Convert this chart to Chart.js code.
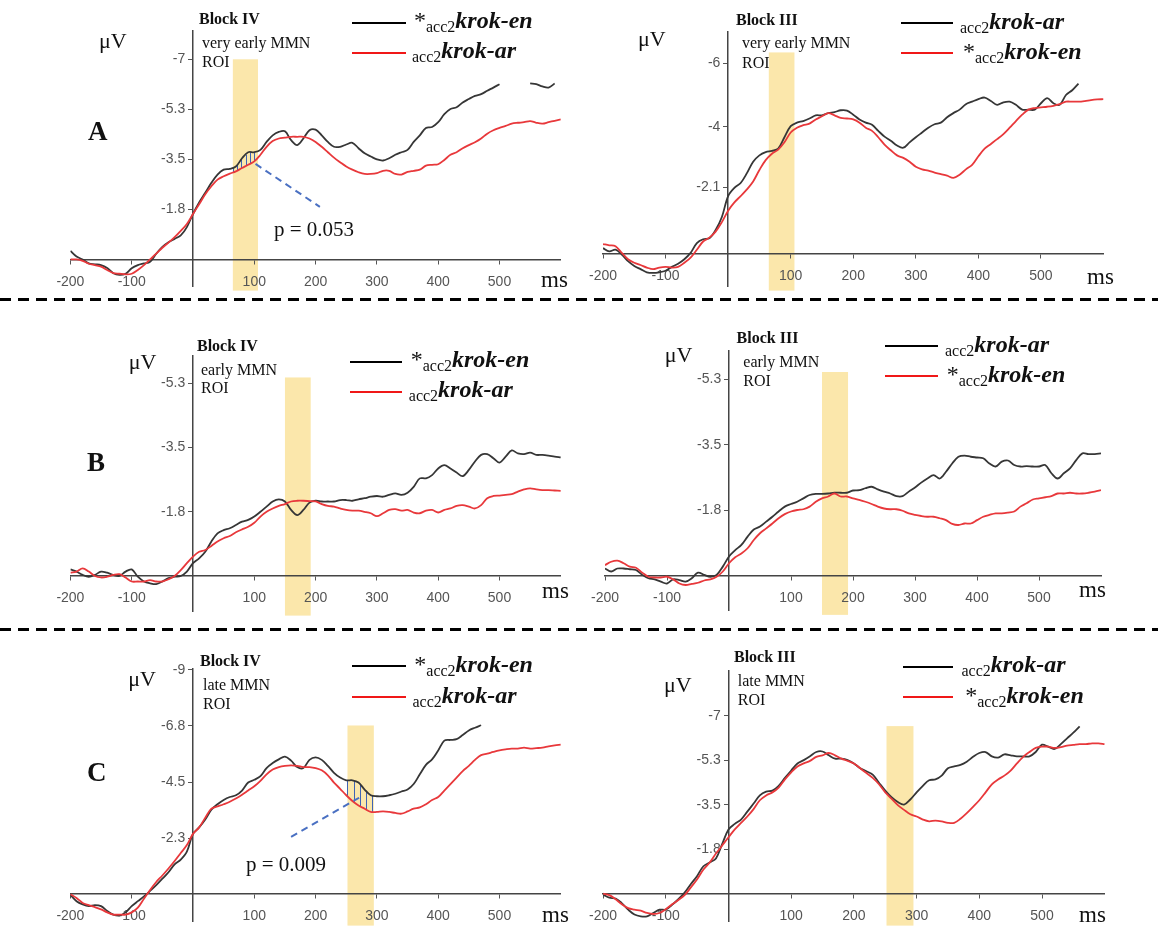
<!DOCTYPE html>
<html>
<head>
<meta charset="utf-8">
<script src="https://cdn.jsdelivr.net/npm/chart.js@4.4.1/dist/chart.umd.min.js"></script>
<style>
  body { margin: 0; background: #fff; }
  #page { position: relative; width: 1158px; height: 933px; overflow: hidden; background: #fff;
          font-family: "Liberation Serif", "Times New Roman", serif; color: #111; }
  #page canvas { position: absolute; }
  .t { position: absolute; white-space: nowrap; line-height: 1; }
  .t b { font-weight: bold; }
  .leg i { font-style: italic; font-weight: bold; }
  .leg sub { font-size: 16px; vertical-align: baseline; position: relative; top: 4px; }
  .legline { position: absolute; height: 2px; }
  .sep { position: absolute; left: 0; width: 1158px; height: 3px;
         background: repeating-linear-gradient(to right, #000 0 11px, transparent 11px 18px); }
</style>
</head>
<body>
<div id="page"></div>
<script>
// time axis (ms), one sample every 10 ms
const timeMs = [
  -200, -190, -180, -170, -160, -150, -140, -130, -120, -110,
  -100, -90, -80, -70, -60, -50, -40, -30, -20, -10,
  0, 10, 20, 30, 40, 50, 60, 70, 80, 90,
  100, 110, 120, 130, 140, 150, 160, 170, 180, 190,
  200, 210, 220, 230, 240, 250, 260, 270, 280, 290,
  300, 310, 320, 330, 340, 350, 360, 370, 380, 390,
  400, 410, 420, 430, 440, 450, 460, 470, 480, 490,
  500, 510, 520, 530, 540, 550, 560, 570, 580, 590,
  600
];

// Row A, Block IV (left): black = *acc2krok-en, red = acc2krok-ar
const aLeftBlack = [
  -0.30, -0.10, 0.00, 0.14, 0.17, 0.20, 0.30, 0.48, 0.54, 0.50,
  0.31, 0.20, 0.14, 0.08, -0.20, -0.44, -0.60, -0.72, -0.84, -1.13,
  -1.59, -1.99, -2.33, -2.68, -2.97, -3.14, -3.17, -3.25, -3.54, -3.75,
  -3.75, -3.83, -4.11, -4.34, -4.46, -4.48, -4.17, -4.00, -4.23, -4.52,
  -4.54, -4.34, -4.11, -3.94, -3.94, -4.02, -4.08, -3.89, -3.71, -3.60,
  -3.50, -3.46, -3.54, -3.66, -3.75, -3.83, -4.11, -4.34, -4.60, -4.63,
  -4.80, -5.08, -5.26, -5.32, -5.49, -5.61, -5.72, -5.78, -5.90, -6.01,
  -6.13, null, null, null, null, -6.16, -6.13, -6.05, -6.01, -6.15,
  null
];
const aLeftRed = [
  0.00, 0.00, 0.05, 0.15, 0.20, 0.25, 0.37, 0.48, 0.50, 0.52,
  0.50, 0.37, 0.20, 0.00, -0.20, -0.41, -0.59, -0.78, -1.00, -1.24,
  -1.59, -1.93, -2.28, -2.56, -2.79, -2.91, -3.00, -3.08, -3.20, -3.31,
  -3.43, -3.66, -3.94, -4.14, -4.23, -4.26, -4.29, -4.29, -4.29, -4.23,
  -4.11, -3.94, -3.75, -3.56, -3.40, -3.25, -3.14, -3.05, -2.99, -2.99,
  -3.02, -3.10, -3.10, -2.99, -2.97, -3.06, -3.10, -3.14, -3.28, -3.31,
  -3.33, -3.48, -3.66, -3.75, -3.89, -4.00, -4.10, -4.23, -4.40, -4.52,
  -4.60, -4.67, -4.75, -4.78, -4.80, -4.84, -4.78, -4.75, -4.80, -4.85,
  -4.90
];

// Row A, Block III (right): black = acc2krok-ar, red = *acc2krok-en
const aRightBlack = [
  -0.18, -0.08, -0.13, 0.02, 0.23, 0.38, 0.48, 0.58, 0.60, 0.58,
  0.53, 0.41, 0.31, 0.17, -0.03, -0.34, -0.46, -0.49, -0.75, -1.16,
  -1.82, -2.08, -2.23, -2.54, -2.90, -3.10, -3.20, -3.24, -3.31, -3.67,
  -4.02, -4.13, -4.18, -4.26, -4.36, -4.36, -4.43, -4.46, -4.52, -4.51,
  -4.38, -4.23, -4.13, -4.06, -3.87, -3.69, -3.56, -3.41, -3.34, -3.51,
  -3.67, -3.82, -3.97, -4.08, -4.13, -4.30, -4.43, -4.54, -4.71, -4.79,
  -4.87, -4.92, -4.81, -4.69, -4.77, -4.79, -4.69, -4.54, -4.54, -4.54,
  -4.74, -4.90, -4.74, -4.69, -5.00, -5.15, -5.36, null, null, null,
  null
];
const aRightRed = [
  -0.31, -0.27, -0.24, -0.03, 0.17, 0.28, 0.35, 0.43, 0.48, 0.43,
  0.41, 0.43, 0.41, 0.28, 0.12, -0.13, -0.39, -0.51, -0.70, -1.00,
  -1.36, -1.62, -1.82, -2.03, -2.28, -2.64, -2.95, -3.15, -3.28, -3.51,
  -3.82, -3.97, -4.05, -4.10, -4.23, -4.33, -4.43, -4.36, -4.28, -4.26,
  -4.23, -4.13, -3.97, -3.87, -3.67, -3.44, -3.26, -3.10, -3.02, -2.90,
  -2.74, -2.66, -2.62, -2.56, -2.51, -2.46, -2.39, -2.49, -2.66, -2.80,
  -3.07, -3.31, -3.46, -3.61, -3.77, -3.97, -4.18, -4.38, -4.54, -4.59,
  -4.61, -4.63, -4.66, -4.71, -4.79, -4.79, -4.79, -4.81, -4.84, -4.86,
  -4.87
];

// Row B, Block IV (left)
const bLeftBlack = [
  -0.18, -0.12, -0.03, 0.02, -0.03, -0.12, -0.09, -0.03, 0.00, -0.12,
  -0.18, 0.02, 0.15, 0.20, 0.22, 0.15, 0.06, 0.02, 0.00, -0.12,
  -0.35, -0.48, -0.66, -0.94, -1.16, -1.25, -1.30, -1.39, -1.48, -1.53,
  -1.62, -1.75, -1.89, -2.03, -2.09, -2.03, -1.80, -1.66, -1.80, -2.00,
  -2.05, -2.03, -2.03, -2.03, -2.07, -2.07, -2.05, -2.09, -2.12, -2.16,
  -2.18, -2.16, -2.21, -2.25, -2.21, -2.27, -2.43, -2.66, -2.66, -2.75,
  -2.93, -3.02, -2.93, -2.82, -2.72, -2.89, -3.12, -3.30, -3.32, -3.21,
  -3.09, -3.25, -3.42, -3.34, -3.32, -3.36, -3.30, -3.30, -3.28, -3.25,
  -3.23
];
const bLeftRed = [
  -0.09, -0.12, -0.21, -0.12, 0.00, 0.04, 0.02, -0.03, -0.05, 0.04,
  0.15, 0.15, 0.15, 0.11, 0.15, 0.15, 0.09, 0.00, -0.16, -0.35,
  -0.53, -0.66, -0.71, -0.82, -0.94, -1.03, -1.09, -1.19, -1.27, -1.34,
  -1.45, -1.62, -1.75, -1.84, -1.91, -1.96, -2.03, -2.05, -2.05, -2.04,
  -2.03, -1.96, -1.91, -1.89, -1.84, -1.80, -1.78, -1.78, -1.75, -1.71,
  -1.63, -1.71, -1.80, -1.82, -1.78, -1.80, -1.73, -1.71, -1.78, -1.80,
  -1.73, -1.80, -1.84, -1.91, -1.93, -1.89, -1.84, -1.93, -2.12, -2.18,
  -2.19, -2.21, -2.23, -2.30, -2.36, -2.39, -2.36, -2.34, -2.34, -2.33,
  -2.32
];

// Row B, Block III (right)
const bRightBlack = [
  -0.20, -0.12, -0.20, -0.20, -0.18, -0.16, -0.03, 0.06, 0.09, 0.15,
  0.20, 0.09, 0.11, 0.15, 0.06, -0.09, -0.03, 0.02, -0.03, -0.25,
  -0.52, -0.69, -0.83, -1.05, -1.24, -1.32, -1.45, -1.58, -1.72, -1.85,
  -1.92, -1.98, -2.07, -2.16, -2.19, -2.19, -2.20, -2.22, -2.22, -2.22,
  -2.28, -2.29, -2.34, -2.38, -2.31, -2.25, -2.20, -2.13, -2.13, -2.25,
  -2.36, -2.49, -2.60, -2.69, -2.60, -2.78, -3.00, -3.18, -3.21, -3.18,
  -3.16, -3.14, -3.00, -2.92, -3.05, -3.08, -2.96, -2.92, -2.93, -2.92,
  -2.92, -2.96, -2.74, -2.60, -2.74, -2.87, -3.09, -3.27, -3.25, -3.25,
  -3.27
];
const bRightRed = [
  -0.29, -0.38, -0.41, -0.34, -0.25, -0.22, -0.09, 0.02, 0.04, 0.04,
  0.02, 0.09, 0.20, 0.24, 0.21, 0.18, 0.12, 0.09, 0.02, -0.12,
  -0.34, -0.50, -0.60, -0.74, -0.96, -1.14, -1.27, -1.40, -1.54, -1.65,
  -1.72, -1.76, -1.78, -1.85, -1.98, -2.07, -2.12, -2.20, -2.12, -2.12,
  -2.07, -2.03, -1.98, -1.92, -1.85, -1.80, -1.78, -1.78, -1.74, -1.67,
  -1.63, -1.60, -1.58, -1.58, -1.54, -1.49, -1.39, -1.36, -1.40, -1.40,
  -1.49, -1.58, -1.63, -1.67, -1.67, -1.69, -1.72, -1.85, -1.94, -2.04,
  -2.07, -2.10, -2.13, -2.20, -2.20, -2.22, -2.20, -2.20, -2.22, -2.25,
  -2.29
];

// Row C, Block IV (left)
const cLeftBlack = [
  0.03, 0.28, 0.41, 0.48, 0.44, 0.48, 0.67, 0.82, 0.86, 0.73,
  0.48, 0.28, 0.09, -0.13, -0.36, -0.62, -0.88, -1.20, -1.39, -1.71,
  -2.42, -2.68, -3.00, -3.39, -3.61, -3.78, -3.90, -3.97, -4.16, -4.48,
  -4.59, -4.74, -5.06, -5.26, -5.41, -5.52, -5.36, -5.10, -5.06, -5.39,
  -5.49, -5.39, -5.15, -4.87, -4.68, -4.57, -4.57, -4.48, -4.20, -3.97,
  -3.93, -3.93, -3.97, -4.03, -4.12, -4.20, -4.42, -4.81, -5.19, -5.41,
  -5.77, -6.16, -6.19, -6.22, -6.39, -6.57, -6.68, -6.78, null, null,
  null, null, null, null, null, null, null, null, null, null,
  null
];
const cLeftRed = [
  0.00, 0.15, 0.35, 0.44, 0.52, 0.61, 0.73, 0.82, 0.82, 0.82,
  0.73, 0.54, 0.18, -0.17, -0.49, -0.75, -1.03, -1.33, -1.65, -1.97,
  -2.42, -2.68, -3.07, -3.43, -3.52, -3.61, -3.71, -3.84, -3.99, -4.16,
  -4.33, -4.55, -4.81, -5.00, -5.10, -5.15, -5.17, -5.15, -5.10, -5.10,
  -5.06, -4.97, -4.77, -4.48, -4.23, -3.97, -3.74, -3.56, -3.43, -3.30,
  -3.30, -3.32, -3.30, -3.26, -3.23, -3.32, -3.43, -3.48, -3.61, -3.78,
  -3.90, -4.16, -4.42, -4.68, -4.94, -5.15, -5.39, -5.58, -5.64, -5.71,
  -5.77, -5.81, -5.84, -5.84, -5.88, -5.84, -5.86, -5.88, -5.93, -5.97,
  -6.00
];

// Row C, Block III (right)
const cRightBlack = [
  0.04, 0.16, 0.19, 0.38, 0.63, 0.82, 0.89, 0.89, 0.76, 0.63,
  0.63, 0.44, 0.22, -0.04, -0.38, -0.70, -1.08, -1.23, -1.39, -1.96,
  -2.53, -2.75, -2.92, -3.23, -3.55, -3.87, -4.02, -4.06, -4.25, -4.56,
  -4.85, -5.13, -5.26, -5.41, -5.58, -5.60, -5.45, -5.32, -5.32, -5.26,
  -5.13, -4.94, -4.82, -4.69, -4.37, -4.06, -3.80, -3.61, -3.51, -3.71,
  -3.99, -4.25, -4.47, -4.50, -4.65, -4.94, -5.01, -5.07, -5.20, -5.39,
  -5.54, -5.58, -5.41, -5.36, -5.49, -5.45, -5.41, -5.41, -5.41, -5.58,
  -5.87, -5.79, -5.70, -5.89, -6.12, -6.34, -6.59, null, null, null,
  null
];
const cRightRed = [
  0.00, 0.06, 0.22, 0.42, 0.57, 0.63, 0.67, 0.76, 0.80, 0.76,
  0.61, 0.42, 0.25, 0.06, -0.25, -0.57, -0.95, -1.23, -1.58, -1.90,
  -2.22, -2.53, -2.79, -3.04, -3.33, -3.68, -3.87, -3.99, -4.18, -4.50,
  -4.78, -5.01, -5.13, -5.23, -5.39, -5.45, -5.54, -5.45, -5.32, -5.23,
  -5.13, -4.94, -4.75, -4.56, -4.31, -3.99, -3.74, -3.49, -3.30, -3.13,
  -3.04, -2.92, -2.85, -2.88, -2.85, -2.79, -2.79, -2.95, -3.17, -3.42,
  -3.68, -3.99, -4.31, -4.50, -4.65, -4.85, -5.13, -5.39, -5.58, -5.74,
  -5.79, -5.79, -5.74, -5.77, -5.83, -5.86, -5.89, -5.89, -5.92, -5.92,
  -5.89
];

// ticks
const xTicks = [-200, -100, 100, 200, 300, 400, 500];
const aLeftYTicks = [-7, -5.25, -3.5, -1.75];
const aLeftYLabels = ['-7', '-5.3', '-3.5', '-1.8'];
const aRightYTicks = [-6, -4, -2.1];
const aRightYLabels = ['-6', '-4', '-2.1'];
const bYTicks = [-5.25, -3.5, -1.75];
const bYLabels = ['-5.3', '-3.5', '-1.8'];
const cLeftYTicks = [-9, -6.75, -4.5, -2.25];
const cLeftYLabels = ['-9', '-6.8', '-4.5', '-2.3'];
const cRightYTicks = [-7, -5.25, -3.5, -1.75];
const cRightYLabels = ['-7', '-5.3', '-3.5', '-1.8'];

// ROI windows (ms) and p-value pointers (ms, uV)
const roiA = [65, 106];
const roiB = [150, 192];
const roiC = [252, 295];
const aPointerMs = [102, 207];
const aPointerUv = [-3.34, -1.84];
const cPointerMs = [160, 271];
const cPointerUv = [-2.3, -3.87];

const legendLeft = ['*<sub>acc2</sub><i>krok-en</i>', '<sub>acc2</sub><i>krok-ar</i>'];
const legendRight = ['<sub>acc2</sub><i>krok-ar</i>', '*<sub>acc2</sub><i>krok-en</i>'];

// panel layout (page pixels)
const panels = [
  { box: [0, 0, 579, 298], zeroX: 193, px100: 61.3, zeroY: 262.7, pxUv: 29, yMin: -8, yMax: 0.95,
    black: aLeftBlack, red: aLeftRed, yTicks: aLeftYTicks, yLabels: aLeftYLabels,
    roi: roiA, roiTop: -7.0, hatch: 7, pointer: [aPointerMs, aPointerUv] },
  { box: [579, 0, 579, 298], zeroX: 727.3, px100: 62.7, zeroY: 259.3, pxUv: 32.55, yMin: -7, yMax: 1.03,
    black: aRightBlack, red: aRightRed, yTicks: aRightYTicks, yLabels: aRightYLabels,
    roi: roiA, roiTop: -6.34 },
  { box: [0, 302, 579, 325], zeroX: 193, px100: 61.3, zeroY: 576, pxUv: 36.7, yMin: -6, yMax: 0.97,
    black: bLeftBlack, red: bLeftRed, yTicks: bYTicks, yLabels: bYLabels,
    roi: roiB, roiTop: -5.41 },
  { box: [579, 302, 579, 325], zeroX: 729, px100: 62, zeroY: 576, pxUv: 37.5, yMin: -6, yMax: 0.93,
    black: bRightBlack, red: bRightRed, yTicks: bYTicks, yLabels: bYLabels,
    roi: roiB, roiTop: -5.44 },
  { box: [0, 632, 579, 301], zeroX: 193, px100: 61.3, zeroY: 902.7, pxUv: 25.86, yMin: -9.06, yMax: 1.1,
    black: cLeftBlack, red: cLeftRed, yTicks: cLeftYTicks, yLabels: cLeftYLabels,
    roi: roiC, roiTop: -6.77, hatch: 10, pointer: [cPointerMs, cPointerUv] },
  { box: [579, 632, 579, 301], zeroX: 728.5, px100: 62.7, zeroY: 901.7, pxUv: 26.3, yMin: -8.8, yMax: 1.1,
    black: cRightBlack, red: cRightRed, yTicks: cRightYTicks, yLabels: cRightYLabels,
    roi: roiC, roiTop: -6.6 }
];

const page = document.getElementById('page');

// value of a series at time t (linear between samples), used for the hatching
function valueAt(series, t) {
  for (let i = 0; i < timeMs.length - 1; i++) {
    if (t >= timeMs[i] && t <= timeMs[i + 1]) {
      const f = (t - timeMs[i]) / (timeMs[i + 1] - timeMs[i]);
      return series[i] + f * (series[i + 1] - series[i]);
    }
  }
  return null;
}

function roiPlugin(p) {
  return {
    id: 'roi',
    beforeDraw(chart) {
      const { ctx, chartArea } = chart;
      const x = chart.scales.x, y = chart.scales.y;
      const x0 = x.getPixelForValue(p.roi[0]);
      const x1 = x.getPixelForValue(p.roi[1]);
      const top = y.getPixelForValue(p.roiTop);
      ctx.save();
      ctx.fillStyle = '#fbe7ab';
      ctx.fillRect(x0, top, x1 - x0, chartArea.bottom + 4 - top);
      ctx.restore();
    },
    beforeDatasetsDraw(chart) {
      if (!p.hatch) return;
      const { ctx } = chart;
      const x = chart.scales.x, y = chart.scales.y;
      ctx.save();
      ctx.strokeStyle = '#3f63b5';
      ctx.lineWidth = 1;
      for (let t = p.roi[0]; t <= p.roi[1]; t += p.hatch) {
        const px = Math.round(x.getPixelForValue(t)) + 0.5;
        ctx.beginPath();
        ctx.moveTo(px, y.getPixelForValue(valueAt(p.black, t)));
        ctx.lineTo(px, y.getPixelForValue(valueAt(p.red, t)));
        ctx.stroke();
      }
      ctx.restore();
    },
    afterDatasetsDraw(chart) {
      if (!p.pointer) return;
      const { ctx } = chart;
      const x = chart.scales.x, y = chart.scales.y;
      const [ms, uv] = p.pointer;
      ctx.save();
      ctx.strokeStyle = '#4a70c2';
      ctx.lineWidth = 2;
      ctx.setLineDash([7, 5]);
      ctx.beginPath();
      ctx.moveTo(x.getPixelForValue(ms[0]), y.getPixelForValue(uv[0]));
      ctx.lineTo(x.getPixelForValue(ms[1]), y.getPixelForValue(uv[1]));
      ctx.stroke();
      ctx.restore();
    }
  };
}

const tickFont = { family: '"Liberation Sans", Arial, sans-serif', size: 14 };

panels.forEach(p => {
  const [bx, by, bw, bh] = p.box;
  const canvas = document.createElement('canvas');
  canvas.width = bw; canvas.height = bh;
  canvas.style.left = bx + 'px'; canvas.style.top = by + 'px';
  page.appendChild(canvas);

  const padding = {
    left: p.zeroX - 2 * p.px100 - bx,
    right: bx + bw - (p.zeroX + 6 * p.px100),
    top: p.zeroY + p.yMin * p.pxUv - by,
    bottom: by + bh - (p.zeroY + p.yMax * p.pxUv)
  };

  new Chart(canvas.getContext('2d'), {
    type: 'line',
    data: {
      datasets: [
        { data: p.red.map((v, i) => ({ x: timeMs[i], y: v })), borderColor: '#e8383b', borderWidth: 1.8 },
        { data: p.black.map((v, i) => ({ x: timeMs[i], y: v })), borderColor: '#363636', borderWidth: 1.8 }
      ]
    },
    options: {
      responsive: false,
      animation: false,
      events: [],
      devicePixelRatio: 1,
      layout: { padding: padding },
      elements: { point: { radius: 0 }, line: { tension: 0.35 } },
      plugins: { legend: { display: false }, tooltip: { enabled: false } },
      scales: {
        x: {
          type: 'linear', min: -200, max: 600,
          position: { y: 0 },
          afterBuildTicks: s => { s.ticks = xTicks.map(v => ({ value: v })); },
          ticks: { color: '#555', font: tickFont, padding: 10, autoSkip: false, maxRotation: 0 },
          grid: { drawOnChartArea: false, drawTicks: true, tickLength: 4, color: '#555' },
          border: { color: '#444', width: 1.5 }
        },
        y: {
          type: 'linear', min: p.yMin, max: p.yMax, reverse: true,
          position: { x: 0 },
          afterBuildTicks: s => { s.ticks = p.yTicks.map(v => ({ value: v })); },
          ticks: {
            color: '#555', font: tickFont, autoSkip: false,
            callback: (v) => p.yLabels[p.yTicks.indexOf(v)] + '  '
          },
          grid: { drawOnChartArea: false, drawTicks: true, tickLength: 4, color: '#555' },
          border: { color: '#444', width: 1.5 }
        }
      }
    },
    plugins: [roiPlugin(p)]
  });
});

// text overlays: [html, left, baseline, size]
const texts = [
  ['<b>Block IV</b>', 199, 24.5, 16],
  ['very early MMN', 202, 48.5, 16],
  ['ROI', 202, 67.5, 16],
  ['μV', 99, 48, 22],
  ['<b>A</b>', 88, 140.4, 27],
  ['ms', 541, 287, 23],
  ['p = 0.053', 274, 237, 21],
  ['<b>Block III</b>', 736, 25, 16],
  ['very early MMN', 742, 48.3, 16],
  ['ROI', 742, 68.3, 16],
  ['μV', 638, 46, 22],
  ['ms', 1087, 284.2, 23],

  ['<b>Block IV</b>', 197, 351, 16],
  ['early MMN', 201, 375.3, 16],
  ['ROI', 201, 393.3, 16],
  ['μV', 128.7, 369, 22],
  ['<b>B</b>', 87, 471.7, 27],
  ['ms', 542, 598.2, 23],
  ['<b>Block III</b>', 736.6, 343.6, 16],
  ['early MMN', 743.3, 367.6, 16],
  ['ROI', 743.3, 386.3, 16],
  ['μV', 664.8, 362.3, 22],
  ['ms', 1079, 597.5, 23],

  ['<b>Block IV</b>', 200, 666.7, 16],
  ['late MMN', 203, 690, 16],
  ['ROI', 203, 709, 16],
  ['μV', 128.3, 686.5, 22],
  ['<b>C</b>', 87, 781.7, 27],
  ['ms', 542, 921.9, 23],
  ['p = 0.009', 246, 872, 21],
  ['<b>Block III</b>', 734, 662, 16],
  ['late MMN', 737.8, 686.3, 16],
  ['ROI', 737.8, 705.3, 16],
  ['μV', 664, 692.3, 22],
  ['ms', 1079, 921.9, 23]
];

// legends: [x0, x1, lineY black, lineY red, text x black, text x red, baseline black, baseline red, labels]
const legends = [
  [351.5, 405, 22.7, 52.7, 414, 412, 28.3, 58.3, legendLeft],
  [900.7, 953, 23, 53, 960, 963, 28.6, 58.6, legendRight],
  [349.6, 401.4, 361.7, 391.7, 410.7, 408.8, 367.3, 397.3, legendLeft],
  [885, 937.5, 346, 376, 945, 946.7, 351.6, 381.6, legendRight],
  [351.5, 405, 666, 697.3, 414.3, 412.5, 671.6, 702.9, legendLeft],
  [902.5, 952.3, 666.7, 697.3, 961.5, 965.2, 672.3, 702.9, legendRight]
];
legends.forEach(l => {
  texts.push([l[8][0], l[4], l[6], 24, 'leg']);
  texts.push([l[8][1], l[5], l[7], 24, 'leg']);
  [[l[2], '#000'], [l[3], '#f01818']].forEach(([ly, col]) => {
    const d = document.createElement('div');
    d.className = 'legline';
    d.style.left = Math.round(l[0]) + 'px';
    d.style.width = Math.round(l[1] - l[0]) + 'px';
    d.style.top = Math.round(ly - 1) + 'px';
    d.style.background = col;
    page.appendChild(d);
  });
});

texts.forEach(([html, x, base, size, cls]) => {
  const d = document.createElement('div');
  d.className = 't ' + (cls || '');
  d.innerHTML = html;
  d.style.left = x + 'px';
  d.style.top = (base - 0.8375 * size) + 'px';
  d.style.fontSize = size + 'px';
  page.appendChild(d);
});

// dashed separators between rows
[298, 628].forEach(y => {
  const d = document.createElement('div');
  d.className = 'sep';
  d.style.top = y + 'px';
  page.appendChild(d);
});
</script>
</body>
</html>
